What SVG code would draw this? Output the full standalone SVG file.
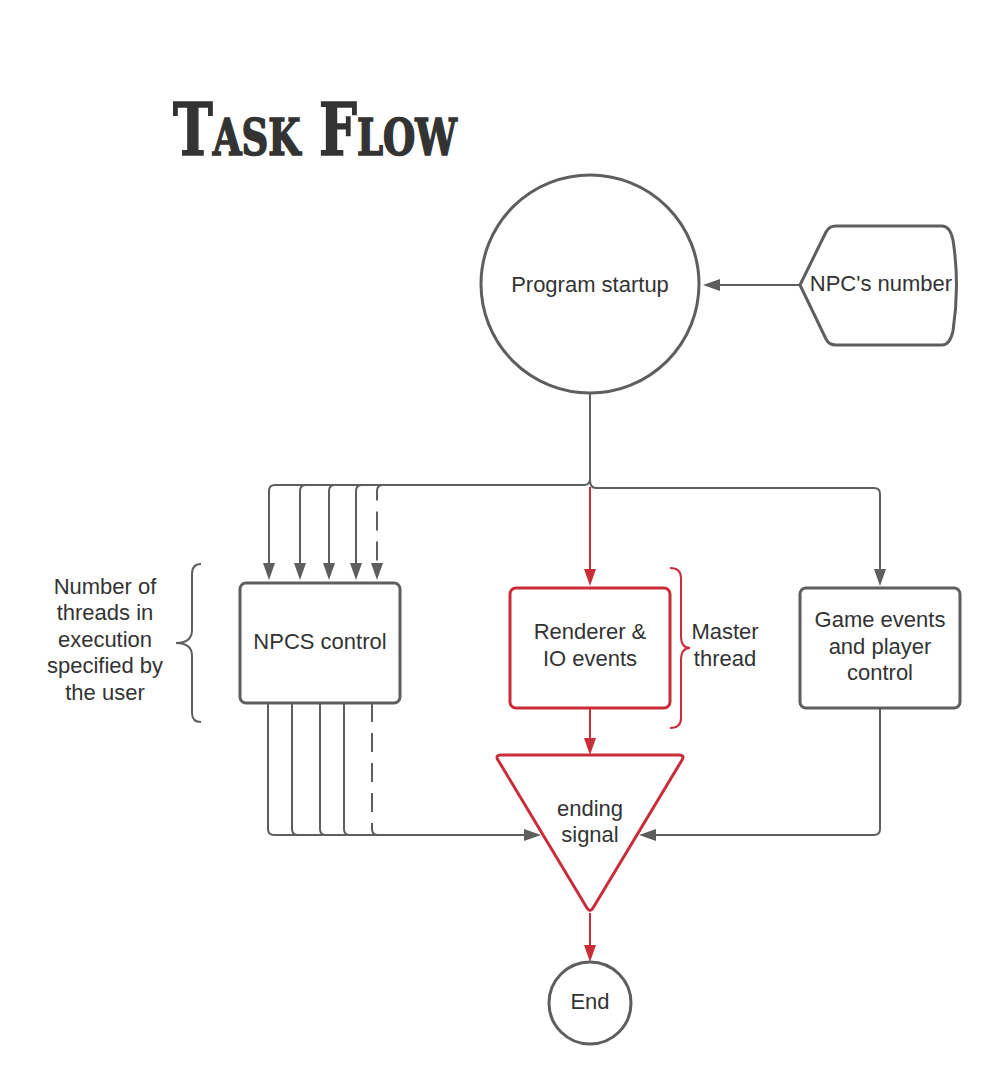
<svg xmlns="http://www.w3.org/2000/svg" width="1000" height="1083" viewBox="0 0 1000 1083">
<style>
.t{font-family:"Liberation Sans",Arial,sans-serif;font-size:22px;fill:#333;text-anchor:middle}
.sg{fill:#fff;stroke:#5e5e5e;stroke-width:3}
.sr{fill:#fff;stroke:#c92d39;stroke-width:3}
.cg{fill:none;stroke:#5e5e5e;stroke-width:2}
.cr{fill:none;stroke:#c92d39;stroke-width:2}
.d{stroke-dasharray:19 11}
</style>
<defs>
<marker id="ag" markerUnits="userSpaceOnUse" markerWidth="17" markerHeight="12" viewBox="0 0 17 12" refX="0" refY="6" orient="auto"><path d="M0,0 L17,6 L0,12 z" fill="#5e5e5e"/></marker>
<marker id="ar" markerUnits="userSpaceOnUse" markerWidth="17" markerHeight="12" viewBox="0 0 17 12" refX="0" refY="6" orient="auto"><path d="M0,0 L17,6 L0,12 z" fill="#c92d39"/></marker>
</defs>
<rect width="1000" height="1083" fill="#fff"/>
<text id="title" x="173" y="155" font-family="'DejaVu Serif Condensed','DejaVu Serif',serif" font-weight="900" font-size="72" font-variant="small-caps" fill="#333" stroke="#333" stroke-width="1.5" textLength="284" lengthAdjust="spacingAndGlyphs">Task Flow</text>
<g id="connectors">
<path class="cg" d="M590,393 V479 Q590,485 584,485 H275 Q269,485 269,491 V563" marker-end="url(#ag)"/>
<path class="cg" d="M306,485 Q300,485 300,491 V563" marker-end="url(#ag)"/>
<path class="cg" d="M335,485 Q329,485 329,491 V563" marker-end="url(#ag)"/>
<path class="cg" d="M362,485 Q356,485 356,491 V563" marker-end="url(#ag)"/>
<path class="cg d" d="M383,485 Q377,485 377,491 V563" marker-end="url(#ag)"/>
<path class="cg" d="M590,480 Q590,488 596,488 H874 Q880,488 880,494 V569" marker-end="url(#ag)"/>
<path class="cr" d="M590,487 V569" marker-end="url(#ar)"/>
<path class="cg" d="M800,285 H720" marker-end="url(#ag)"/>
<path class="cg" d="M268,703 V829 Q268,835 274,835 H524" marker-end="url(#ag)"/>
<path class="cg" d="M292,703 V829 Q292,835 298,835 H340"/>
<path class="cg" d="M320,703 V829 Q320,835 326,835 H360"/>
<path class="cg" d="M344,703 V829 Q344,835 350,835 H380"/>
<path class="cg d" d="M372,703 V829"/>
<path class="cg" d="M372,827 V829 Q372,835 378,835 H400"/>
<path class="cg" d="M880,708 V829 Q880,835 874,835 H656" marker-end="url(#ag)"/>
<path class="cr" d="M590,708 V738" marker-end="url(#ar)"/>
<path class="cr" d="M590,913 V945" marker-end="url(#ar)"/>
</g>
<g id="startup">
<circle class="sg" cx="590" cy="284" r="109"/>
<text class="t" x="590" y="292">Program startup</text>
</g>
<g id="npcnumber">
<path class="sg" stroke-linejoin="round" d="M800,285 L826,232 Q829,226 836,226 H942 Q950,226 953,240 Q960,285 953,331 Q950,345 942,345 H836 Q829,345 826,339 Z"/>
<text class="t" x="881" y="291">NPC's number</text>
</g>
<g id="npcs">
<rect class="sg" x="240" y="583" width="160" height="120" rx="6"/>
<text class="t" x="320" y="649">NPCS control</text>
</g>
<g id="threads-note">
<path class="cg" stroke-width="3" d="M201,564 Q192,564 192,574 V630 Q192,643 176,643 Q192,643 192,656 V713 Q192,722 201,722"/>
<text class="t" x="105" y="594">Number of</text>
<text class="t" x="105" y="620">threads in</text>
<text class="t" x="105" y="647">execution</text>
<text class="t" x="105" y="673">specified by</text>
<text class="t" x="105" y="700">the user</text>
</g>
<g id="renderer">
<rect class="sr" x="510" y="588" width="160" height="120" rx="6"/>
<text class="t" x="590" y="639">Renderer &amp;</text>
<text class="t" x="590" y="666">IO events</text>
</g>
<g id="master-note">
<path class="cr" stroke-width="3" d="M670,568 Q681,568 681,578 V636 Q681,648 690,648 Q681,648 681,660 V718 Q681,728 670,728"/>
<text class="t" x="725" y="639">Master</text>
<text class="t" x="725" y="666">thread</text>
</g>
<g id="game">
<rect class="sg" x="800" y="588" width="160" height="120" rx="6"/>
<text class="t" x="880" y="627">Game events</text>
<text class="t" x="880" y="654">and player</text>
<text class="t" x="880" y="680">control</text>
</g>
<g id="ending">
<path class="sr" stroke-linejoin="round" d="M501,755 H679 Q685,755 682,760 L593,908 Q590,913 587,908 L498,760 Q495,755 501,755 Z"/>
<text class="t" x="590" y="816">ending</text>
<text class="t" x="590" y="842">signal</text>
</g>
<g id="end">
<circle class="sg" cx="590" cy="1003" r="41"/>
<text class="t" x="590" y="1009">End</text>
</g>
</svg>
